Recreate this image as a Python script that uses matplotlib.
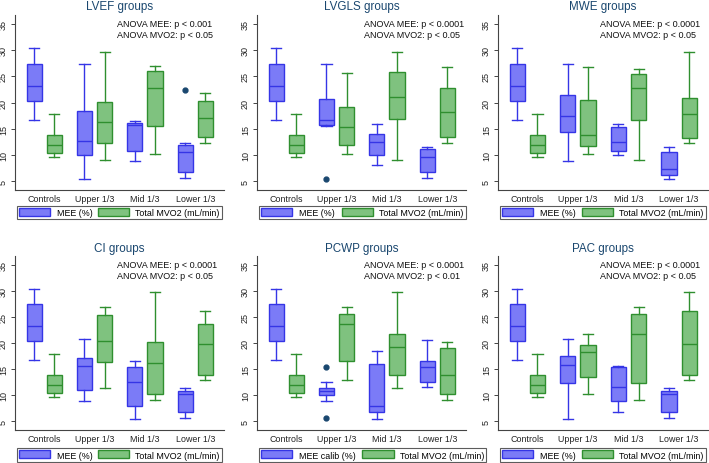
import matplotlib
matplotlib.use("Agg")
import matplotlib.pyplot as plt
from matplotlib.patches import Patch

plt.rcParams['font.family'] = ['Liberation Sans', 'DejaVu Sans']

# group labels on the x axis
groups = ["Controls", "Upper 1/3", "Mid 1/3", "Lower 1/3"]

# box stats per group: [whisker low, q1, median, q3, whisker high]
ctrl_mee = [16.7, 20.3, 23.2, 27.4, 30.3]
ctrl_mvo2 = [9.6, 10.4, 12.0, 13.8, 17.9]

lvef_mee = [ctrl_mee, [5.4, 10.0, 12.6, 18.4, 27.4], [8.9, 10.8, 15.7, 16.1, 16.5], [5.6, 6.8, 10.5, 11.9, 12.2]]
lvef_mvo2 = [ctrl_mvo2, [9.0, 12.2, 16.2, 20.1, 29.7], [10.2, 15.5, 22.7, 26.0, 26.9], [12.3, 13.4, 17.0, 20.3, 21.8]]
lvef_mee_out = [[], [], [], [22.4]]
lvef_mvo2_out = [[], [], [], []]

lvgls_mee = [ctrl_mee, [15.6, 15.7, 16.6, 20.6, 27.4], [8.1, 10.1, 12.4, 14.0, 16.0], [5.7, 6.8, 9.7, 11.1, 11.6]]
lvgls_mvo2 = [ctrl_mvo2, [10.2, 12.0, 15.4, 19.2, 25.6], [9.1, 16.8, 21.0, 25.8, 29.7], [12.3, 13.4, 18.2, 22.7, 26.8]]
lvgls_mee_out = [[], [5.5], [], []]
lvgls_mvo2_out = [[], [], [], []]

mwe_mee = [ctrl_mee, [8.9, 14.4, 17.5, 21.5, 27.4], [10.0, 10.8, 12.4, 15.4, 15.9], [5.5, 6.2, 7.4, 10.5, 11.6]]
mwe_mvo2 = [ctrl_mvo2, [10.2, 11.8, 13.8, 20.4, 26.8], [9.0, 16.7, 22.7, 25.4, 26.3], [12.3, 13.3, 17.8, 20.8, 29.7]]
mwe_mee_out = [[], [], [], []]
mwe_mvo2_out = [[], [], [], []]

ci_mee = [ctrl_mee, [8.9, 11.0, 15.6, 17.2, 20.7], [5.5, 8.0, 12.5, 15.4, 16.5], [5.7, 6.8, 10.3, 10.8, 11.4]]
ci_mvo2 = [ctrl_mvo2, [11.4, 16.3, 20.3, 25.4, 26.8], [9.1, 10.2, 16.1, 20.1, 29.7], [13.0, 13.8, 19.8, 23.7, 26.2]]
ci_mee_out = [[], [], [], []]
ci_mvo2_out = [[], [], [], []]

pcwp_mee = [ctrl_mee, [8.9, 10.0, 10.8, 11.4, 12.6], [5.5, 6.8, 8.0, 16.0, 18.4], [11.5, 12.5, 15.5, 16.6, 20.6]]
pcwp_mvo2 = [ctrl_mvo2, [13.0, 16.5, 23.7, 25.5, 26.8], [11.4, 13.8, 19.2, 21.7, 29.7], [9.1, 10.2, 13.9, 19.0, 20.1]]
pcwp_mee_out = [[], [15.5, 5.6], [], []]
pcwp_mvo2_out = [[], [], [], []]

pac_mee = [ctrl_mee, [5.5, 12.3, 15.8, 17.5, 20.7], [6.8, 8.9, 11.5, 15.4, 15.6], [5.7, 6.8, 10.3, 10.8, 11.4]]
pac_mvo2 = [ctrl_mvo2, [10.2, 13.4, 18.2, 19.6, 21.7], [9.1, 12.3, 21.7, 25.5, 26.8], [13.0, 13.8, 19.8, 26.2, 29.7]]
pac_mee_out = [[], [], [], []]
pac_mvo2_out = [[], [], [], []]

titles = ["LVEF groups", "LVGLS groups", "MWE groups", "CI groups", "PCWP groups", "PAC groups"]
anova_mee = ["p < 0.001", "p < 0.0001", "p < 0.0001", "p < 0.0001", "p < 0.0001", "p < 0.0001"]
anova_mvo2 = ["p < 0.05", "p < 0.05", "p < 0.05", "p < 0.05", "p < 0.01", "p < 0.05"]
mee_names = ["MEE (%)", "MEE (%)", "MEE (%)", "MEE (%)", "MEE calib (%)", "MEE (%)"]
mvo2_name = "Total MVO2 (mL/min)"

panels = [
    (lvef_mee, lvef_mvo2, lvef_mee_out, lvef_mvo2_out),
    (lvgls_mee, lvgls_mvo2, lvgls_mee_out, lvgls_mvo2_out),
    (mwe_mee, mwe_mvo2, mwe_mee_out, mwe_mvo2_out),
    (ci_mee, ci_mvo2, ci_mee_out, ci_mvo2_out),
    (pcwp_mee, pcwp_mvo2, pcwp_mee_out, pcwp_mvo2_out),
    (pac_mee, pac_mvo2, pac_mee_out, pac_mvo2_out),
]

W, H = 709, 464
navy = "#1a476f"
blue_face, blue_edge = "#7b7bf7", "#3535e6"
green_face, green_edge = "#7fc27f", "#2f8f2f"

# pixel layout: axes top/bottom, title y, legend top/bottom
rows = [(16, 191, 7, 206, 221), (257, 431, 249, 449, 463)]
# axes left/right, legend left/right
cols = [(15, 224, 17, 222), (257, 466, 259, 466), (498, 708, 500, 706)]
text_x = [1.44, 1.54, 1.44, 1.44, 1.54, 1.44]

def make_stats(vals, outs):
    res = []
    for v, o in zip(vals, outs):
        res.append(dict(whislo=v[0], q1=v[1], med=v[2], q3=v[3], whishi=v[4], fliers=o))
    return res

fig = plt.figure(figsize=(W / 100, H / 100), dpi=100)

for k, (mee, mvo2, mee_out, mvo2_out) in enumerate(panels):
    top, bot, ty, ly0, ly1 = rows[k // 3]
    left, right, lx0, lx1 = cols[k % 3]
    ax = fig.add_axes([left / W, 1 - bot / H, (right - left) / W, (bot - top) / H])

    pos = list(range(len(groups)))
    for stats, off, fc, ec in [(make_stats(mee, mee_out), -0.2, blue_face, blue_edge),
                               (make_stats(mvo2, mvo2_out), 0.2, green_face, green_edge)]:
        ax.bxp(stats, positions=[p + off for p in pos], widths=0.3, capwidths=0.2,
               patch_artist=True, manage_ticks=False,
               boxprops=dict(facecolor=fc, edgecolor=ec, linewidth=1.0),
               medianprops=dict(color=ec, linewidth=1.0),
               whiskerprops=dict(color=ec, linewidth=1.0),
               capprops=dict(color=ec, linewidth=1.0),
               flierprops=dict(marker='o', markerfacecolor=navy, markeredgecolor=navy,
                               markersize=3.5))

    ax.set_xlim(-0.58, 3.57)
    ax.set_ylim(3.35, 36.65)
    ax.set_xticks(pos)
    ax.set_xticklabels(groups, fontsize=6.4, color="#222222")
    ax.set_yticks([5, 10, 15, 20, 25, 30, 35])
    ax.set_yticklabels(["5", "10", "15", "20", "25", "30", "35"], fontsize=6.5,
                       rotation=90, va='center', color="#222222")
    ax.tick_params(axis='x', length=0, pad=3)
    ax.tick_params(axis='y', length=3, width=0.7, pad=2, color="#444444")
    for s in ['top', 'right']:
        ax.spines[s].set_visible(False)
    for s in ['left', 'bottom']:
        ax.spines[s].set_color("#444444")
        ax.spines[s].set_linewidth(0.8)

    ax.text(text_x[k], 35.1, "ANOVA MEE: " + anova_mee[k], fontsize=6.5, va='center', ha='left', color="#111111")
    ax.text(text_x[k], 32.9, "ANOVA MVO2: " + anova_mvo2[k], fontsize=6.5, va='center', ha='left', color="#111111")

    fig.text((left + right) / 2 / W, 1 - ty / H, titles[k], fontsize=8.4, color=navy,
             ha='center', va='center')

    handles = [Patch(facecolor=blue_face, edgecolor=blue_edge, linewidth=1.0, label=mee_names[k]),
               Patch(facecolor=green_face, edgecolor=green_edge, linewidth=1.0, label=mvo2_name)]
    if k == 4:
        # longer label: let this legend take its natural width
        leg = ax.legend(handles=handles, ncol=2, loc='center left',
                        bbox_to_anchor=(lx0 / W, 1 - (ly0 + ly1) / 2 / H),
                        bbox_transform=fig.transFigure, fontsize=6.4, handlelength=3.5,
                        handleheight=1.0, handletextpad=0.7, columnspacing=0.8,
                        borderpad=0.25, borderaxespad=0, fancybox=False, frameon=True)
    else:
        leg = ax.legend(handles=handles, ncol=2, loc='center', mode='expand',
                        bbox_to_anchor=(lx0 / W, 1 - ly1 / H, (lx1 - lx0) / W, (ly1 - ly0) / H),
                        bbox_transform=fig.transFigure, fontsize=6.4, handlelength=3.5,
                        handleheight=1.0, handletextpad=0.7, columnspacing=0.8,
                        borderpad=0.25, borderaxespad=0, fancybox=False, frameon=True)
    leg.get_frame().set_edgecolor("#333333")
    leg.get_frame().set_linewidth(0.8)

fig.savefig("out.png", dpi=100)
